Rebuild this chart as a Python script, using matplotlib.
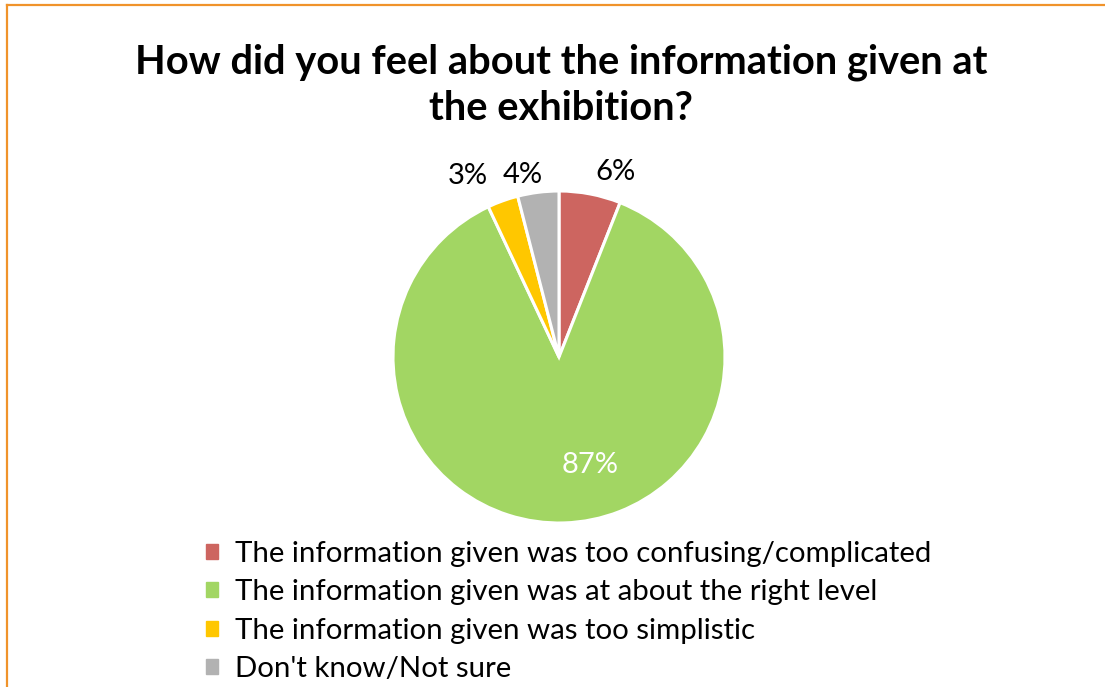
import numpy as np
import matplotlib.pyplot as plt
from matplotlib.patches import Rectangle
from matplotlib.lines import Line2D

plt.rcParams['font.family'] = ['Lato', 'DejaVu Sans']

title = "How did you feel about the information given at\nthe exhibition?"
categories = [
    "The information given was too confusing/complicated",
    "The information given was at about the right level",
    "The information given was too simplistic",
    "Don't know/Not sure",
]
shares = [6, 87, 3, 4]
colors = ["#CD6560", "#A2D663", "#FFC700", "#B2B2B2"]

# where each percentage label sits, relative to its wedge edge (pixels)
label_shift = [(25, 22), (26, 58), (-35, 25), (-15, 17)]

W, H = 1105, 687
fig = plt.figure(figsize=(W / 100, H / 100), dpi=100)

# orange chart-area frame (only top and left edges are in view)
fig.add_artist(Line2D([6.5 / W, 6.5 / W], [0, 1 - 4.5 / H], color="#F0932B", lw=1.6,
                      transform=fig.transFigure))
fig.add_artist(Line2D([6.5 / W, 1], [1 - 4.5 / H, 1 - 4.5 / H], color="#F0932B", lw=1.6,
                      transform=fig.transFigure))

fig.text(561 / W, 1 - 85 / H, title, ha="center", va="center", fontsize=28.7,
         fontweight="bold", linespacing=1.3)

# pie axes: centre (559, 357), radius 166 px
cx, cy, r = 559, 357, 166
ax = fig.add_axes([(cx - r) / W, 1 - (cy + r) / H, 2 * r / W, 2 * r / H])
wedges, _ = ax.pie(shares, colors=colors, startangle=90, counterclock=False,
                   wedgeprops=dict(edgecolor="white", linewidth=2.2))
ax.set_xlim(-1, 1)
ax.set_ylim(-1, 1)
ax.set_aspect("equal")
ax.axis("off")

# percentage labels
for w, v, (dx, dy) in zip(wedges, shares, label_shift):
    mid = np.deg2rad((w.theta1 + w.theta2) / 2)
    ax.annotate(f"{v}%", (np.cos(mid), np.sin(mid)), xytext=(dx, dy),
                textcoords="offset pixels", ha="center", va="center", fontsize=21,
                color="white" if v > 50 else "black", annotation_clip=False)

handles = [Rectangle((0, 0), 1, 1, color=c) for c in colors]
fig.legend(handles, categories, loc="upper left",
           bbox_to_anchor=(206 / W, 1 - 541 / H), frameon=False, fontsize=21.2,
           handlelength=0.42, handleheight=0.42, handletextpad=0.55,
           labelspacing=0.42, borderaxespad=0, borderpad=0)

fig.savefig("out.png", dpi=100, facecolor="white")
